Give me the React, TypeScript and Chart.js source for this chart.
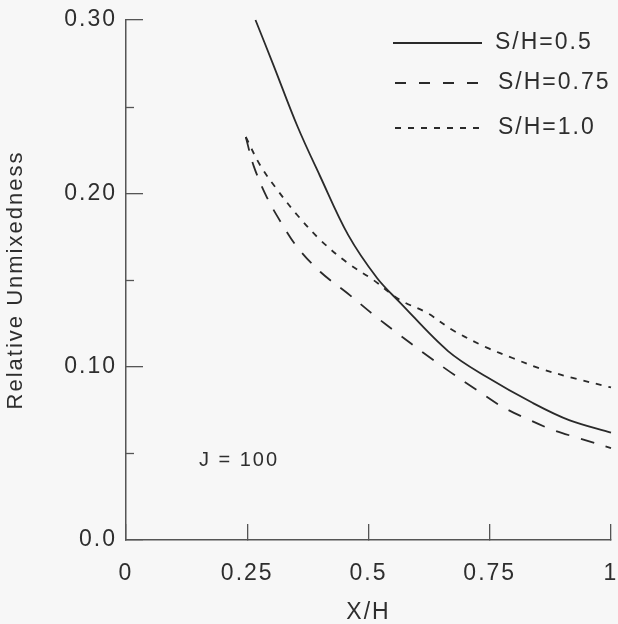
import React, { useEffect, useRef } from "react";
import { Chart, registerables } from "chart.js";

Chart.register(...registerables);

// ---- data ----
const xTickValues = [0, 0.25, 0.5, 0.75, 1];
const xTickLabels = ["0", "0.25", "0.5", "0.75", "1"];
const yTickValues = [0, 0.1, 0.2, 0.3];
const yTickLabels = ["0.0", "0.10", "0.20", "0.30"];
const yMinorTicks = [0.05, 0.15, 0.25];

const seriesLabels = ["S/H=0.5", "S/H=0.75", "S/H=1.0"];

const sh050X = [0.267, 0.304, 0.353, 0.4, 0.458, 0.518, 0.565, 0.664, 0.744, 0.839, 0.915, 1.0];
const sh050Y = [0.3, 0.274, 0.239, 0.21, 0.176, 0.151, 0.137, 0.109, 0.094, 0.079, 0.069, 0.062];

const sh075X = [0.247, 0.263, 0.29, 0.319, 0.353, 0.401, 0.456, 0.51, 0.561, 0.613, 0.668, 0.723, 0.775, 0.826, 0.88, 0.931, 1.0];
const sh075Y = [0.2325, 0.216, 0.198, 0.1835, 0.169, 0.1546, 0.1425, 0.13, 0.119, 0.108, 0.097, 0.0866, 0.077, 0.07, 0.0635, 0.059, 0.053];

const sh100X = [0.247, 0.277, 0.312, 0.353, 0.401, 0.456, 0.51, 0.565, 0.621, 0.674, 0.744, 0.797, 0.853, 0.921, 1.0];
const sh100Y = [0.2325, 0.216, 0.202, 0.1875, 0.173, 0.16, 0.15, 0.1385, 0.131, 0.121, 0.111, 0.105, 0.099, 0.0935, 0.088];

const annotationText = "J = 100";
const annotationX = 0.233;
const annotationY = 0.046;

const xTitle = "X/H";
const yTitle = "Relative Unmixedness";

// ---- styles ----
const FONT = "'Liberation Sans', Arial, Helvetica, sans-serif";
const TEXT = "#2e2e2e";
const LINE = "#2a2a2a";
const AXIS = "#555555";
const dashes = [[], [14, 12], [6, 7]];
const legendDashes = [[], [11, 13], [6, 7]];

const toPoints = (xs: number[], ys: number[]) => xs.map((x, i) => ({ x, y: ys[i] }));

const labelFor = (vals: number[], labels: string[], v: number) => {
  const i = vals.findIndex((t) => Math.abs(t - v) < 1e-6);
  return i >= 0 ? labels[i] : "";
};

const spacingPlugin = {
  id: "spacing",
  beforeLayout(chart: any) {
    chart.ctx.letterSpacing = "2px";
  },
  beforeDraw(chart: any) {
    chart.ctx.letterSpacing = "2px";
  },
};

const extrasPlugin = {
  id: "extras",
  afterDraw(chart: any) {
    const ctx = chart.ctx;
    const xs = chart.scales.x;
    const ys = chart.scales.y;
    const area = chart.chartArea;
    ctx.save();
    // minor y ticks
    ctx.strokeStyle = AXIS;
    ctx.lineWidth = 1.3;
    ctx.setLineDash([]);
    yMinorTicks.forEach((v) => {
      const py = Math.round(ys.getPixelForValue(v)) + 0.5;
      ctx.beginPath();
      ctx.moveTo(area.left, py);
      ctx.lineTo(area.left + 8, py);
      ctx.stroke();
    });
    // annotation
    ctx.fillStyle = TEXT;
    ctx.font = `20px ${FONT}`;
    ctx.textAlign = "center";
    ctx.textBaseline = "middle";
    ctx.fillText(annotationText, xs.getPixelForValue(annotationX), ys.getPixelForValue(annotationY));
    // legend
    const rowsY = [43, 83, 128];
    const lineStart = [393, 395, 395];
    const lineEnd = [482, 488, 480];
    const textX = [495, 498, 498];
    ctx.font = `23px ${FONT}`;
    ctx.textAlign = "left";
    seriesLabels.forEach((lab, i) => {
      ctx.strokeStyle = LINE;
      ctx.lineWidth = 1.8;
      ctx.setLineDash(legendDashes[i]);
      ctx.beginPath();
      ctx.moveTo(lineStart[i], rowsY[i]);
      ctx.lineTo(lineEnd[i], rowsY[i]);
      ctx.stroke();
      ctx.setLineDash([]);
      ctx.fillText(lab, textX[i], rowsY[i]);
    });
    ctx.restore();
  },
};

export default function App() {
  const ref = useRef<HTMLCanvasElement | null>(null);

  useEffect(() => {
    if (!ref.current) return;
    const datasets = [
      toPoints(sh050X, sh050Y),
      toPoints(sh075X, sh075Y),
      toPoints(sh100X, sh100Y),
    ].map((data, i) => ({
      label: seriesLabels[i],
      data,
      borderColor: LINE,
      borderWidth: 1.8,
      borderDash: dashes[i],
      pointRadius: 0,
      fill: false,
      tension: 0.35,
      clip: false as any,
    }));

    const chart = new Chart(ref.current, {
      type: "line",
      data: { datasets },
      options: {
        animation: false,
        responsive: false,
        devicePixelRatio: 1,
        layout: { padding: { top: 20, right: 7, left: 0, bottom: 0 } },
        plugins: {
          legend: { display: false },
          tooltip: { enabled: false },
        },
        scales: {
          x: {
            type: "linear",
            min: 0,
            max: 1,
            afterBuildTicks: (s: any) => {
              s.ticks = xTickValues.map((v) => ({ value: v }));
            },
            afterFit: (s: any) => {
              s.height = 84;
              s.paddingLeft = 0;
              s.paddingRight = 0;
              s.paddingTop = 0;
              s.paddingBottom = 0;
            },
            ticks: {
              autoSkip: false,
              maxRotation: 0,
              padding: 36,
              color: TEXT,
              font: { family: FONT, size: 23 },
              callback: (v: any) => labelFor(xTickValues, xTickLabels, Number(v)),
            },
            grid: {
              drawOnChartArea: false,
              drawTicks: true,
              tickLength: -16,
              tickColor: AXIS,
              lineWidth: 1.3,
            },
            border: { display: true, color: AXIS, width: 1.5 },
            title: {
              display: true,
              text: xTitle,
              color: TEXT,
              font: { family: FONT, size: 23, lineHeight: 1 },
              padding: { top: 0, bottom: 0 },
            },
          },
          y: {
            type: "linear",
            min: 0,
            max: 0.3,
            afterBuildTicks: (s: any) => {
              s.ticks = yTickValues.map((v) => ({ value: v }));
            },
            afterFit: (s: any) => {
              s.width = 126;
              s.paddingLeft = 0;
              s.paddingRight = 0;
              s.paddingTop = 0;
              s.paddingBottom = 0;
            },
            ticks: {
              autoSkip: false,
              padding: 26,
              color: TEXT,
              font: { family: FONT, size: 23 },
              callback: (v: any) => labelFor(yTickValues, yTickLabels, Number(v)),
            },
            grid: {
              drawOnChartArea: false,
              drawTicks: true,
              tickLength: -17,
              tickColor: AXIS,
              lineWidth: 1.3,
            },
            border: { display: true, color: AXIS, width: 1.5 },
            title: {
              display: true,
              text: yTitle,
              color: TEXT,
              font: { family: FONT, size: 22, lineHeight: 1 },
              padding: { top: 5, bottom: 0 },
            },
          },
        },
      },
      plugins: [spacingPlugin, extrasPlugin],
    } as any);

    return () => chart.destroy();
  }, []);

  return (
    <div
      style={{
        position: "fixed",
        left: 0,
        top: 0,
        width: 618,
        height: 624,
        background: "#f7f7f7",
      }}
    >
      <canvas ref={ref} width={618} height={624} style={{ display: "block" }} />
    </div>
  );
}
